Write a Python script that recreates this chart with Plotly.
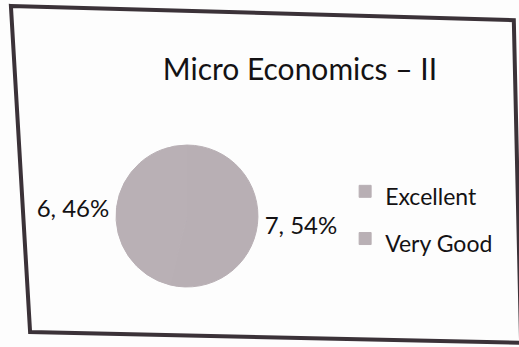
import plotly.graph_objects as go

# Grade distribution for the course
categories = ["Excellent", "Very Good"]
students = [7, 6]

W, H = 519, 347
FONT = "Lato"
INK = "#141214"
SLICE_COLORS = ["#b8afb4", "#b9b0b5"]

# Legend rows are spaced wider than the label text itself
legend_labels = [f"<span style='font-size:23px'>{c}</span>" for c in categories]

fig = go.Figure(
    go.Pie(
        labels=legend_labels,
        values=students,
        sort=True,
        direction="clockwise",
        rotation=0,
        texttemplate="%{value}, %{percent:.0%}",
        textposition="outside",
        textfont=dict(family=FONT, size=24, color=INK),
        marker=dict(
            colors=SLICE_COLORS,
            line=dict(width=1, color=SLICE_COLORS[1]),
        ),
        domain=dict(x=[0.2235, 0.497], y=[0.173, 0.582]),
        showlegend=True,
        hoverinfo="skip",
    )
)

# Hand-ruled border around the chart area
frame = "M 0.021,0.983 L 0.990,0.942 L 1.004,0.012 L 0.058,0.043 Z"

fig.update_layout(
    width=W,
    height=H,
    margin=dict(l=0, r=0, t=0, b=0),
    paper_bgcolor="#fdfdfd",
    plot_bgcolor="#fdfdfd",
    title=dict(
        text="Micro Economics – II",
        x=0.578,
        xanchor="center",
        y=0.8,
        yanchor="middle",
        font=dict(family=FONT, size=30, color=INK),
    ),
    legend=dict(
        x=0.665,
        y=0.531,
        xanchor="left",
        yanchor="top",
        font=dict(family=FONT, size=34, color=INK),
        bgcolor="rgba(0,0,0,0)",
    ),
    shapes=[
        dict(
            type="path",
            path=frame,
            xref="paper",
            yref="paper",
            line=dict(color="#3b3238", width=4),
            fillcolor="rgba(0,0,0,0)",
        )
    ],
)

fig.write_html("out.html")
